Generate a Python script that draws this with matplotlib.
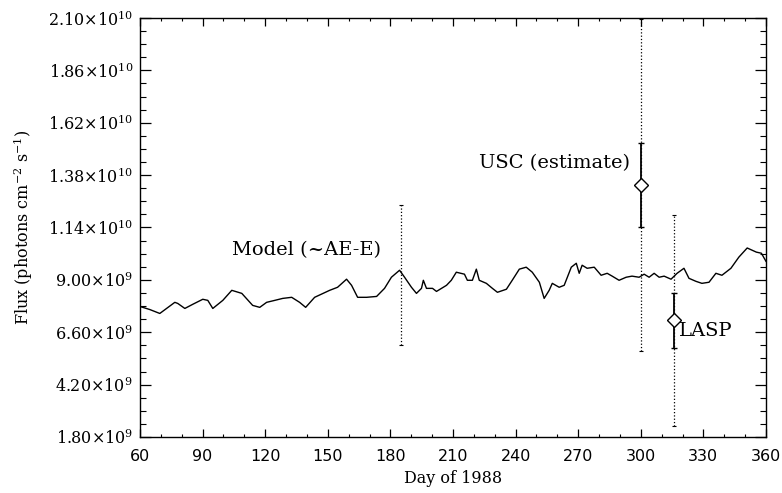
import numpy as np
import matplotlib.pyplot as plt
from matplotlib.ticker import MultipleLocator, FixedLocator

plt.rcParams['font.family'] = 'DejaVu Serif'
plt.rcParams['mathtext.fontset'] = 'dejavuserif'

# model flux (~AE-E): day of 1988 and flux in units of 1e9 photons cm^-2 s^-1
day = [60, 64.7, 69.5, 76.7, 78.1, 81.5, 85.3, 90.1, 92.5, 94.9, 99.7, 104.0,
       108.8, 114.0, 117.4, 120.7, 124.6, 128.4, 132.7, 136.5, 139.4, 143.7,
       150.9, 154.7, 159.0, 161.4, 164.3, 168.6, 173.4, 177.2, 180.5, 184.4,
       186.8, 190.1, 192.5, 194.9, 195.8, 197.3, 200.2, 202.1, 206.9, 209.2,
       211.6, 215.5, 216.9, 219.3, 221.2, 222.6, 226.0, 228.9, 231.3, 235.6,
       238.4, 241.8, 245.1, 248.0, 251.4, 253.7, 256.1, 257.6, 260.9, 263.3,
       266.7, 269.1, 270.5, 271.9, 274.3, 277.7, 281.0, 283.9, 286.3, 289.6,
       293.0, 295.8, 299.2, 301.6, 304.0, 306.4, 308.8, 311.2, 314.5, 317.4,
       320.7, 323.1, 326.5, 329.3, 332.7, 336.0, 338.9, 343.2, 347.0, 351.0,
       355.4, 357.8, 360]
flux = [7.78, 7.64, 7.46, 7.97, 7.92, 7.69, 7.88, 8.11, 8.06, 7.69, 8.06, 8.52,
        8.38, 7.83, 7.74, 7.97, 8.06, 8.15, 8.20, 7.97, 7.74, 8.20,
        8.52, 8.66, 9.03, 8.75, 8.20, 8.20, 8.24, 8.61, 9.12, 9.44,
        9.12, 8.66, 8.38, 8.61, 8.98, 8.61, 8.61, 8.47, 8.75, 8.98,
        9.35, 9.26, 8.98, 8.98, 9.49, 8.98, 8.84, 8.61, 8.43, 8.57,
        8.98, 9.49, 9.58, 9.35, 8.89, 8.15, 8.52, 8.84, 8.66, 8.75,
        9.58, 9.76, 9.30, 9.67, 9.53, 9.58, 9.21, 9.30, 9.17, 8.98,
        9.12, 9.17, 9.12, 9.26, 9.12, 9.30, 9.12, 9.17, 9.03, 9.30,
        9.53, 9.07, 8.93, 8.84, 8.89, 9.30, 9.21, 9.53, 10.04, 10.46,
        10.27, 10.22, 9.85]

# error bars: day, value, solid error, dotted error (1e9 units)
model_day, model_val, model_err = 185, 9.22, 3.21
usc_day, usc_val, usc_err, usc_err2 = 300, 13.34, 1.93, 7.6
lasp_day, lasp_val, lasp_err, lasp_err2 = 316, 7.14, 1.28, 4.85

yticks = [1.8, 4.2, 6.6, 9.0, 11.4, 13.8, 16.2, 18.6, 21.0]
ylabels = [r'1.80$\times$10$^{9}$', r'4.20$\times$10$^{9}$', r'6.60$\times$10$^{9}$',
           r'9.00$\times$10$^{9}$', r'1.14$\times$10$^{10}$', r'1.38$\times$10$^{10}$',
           r'1.62$\times$10$^{10}$', r'1.86$\times$10$^{10}$', r'2.10$\times$10$^{10}$']

fig = plt.figure(figsize=(7.82, 4.93), dpi=100)
ax = fig.add_axes([0.179, 0.1136, 0.8005, 0.85])

ax.plot(day, flux, color='black', lw=1.0)

dot = dict(fmt='none', ecolor='black', elinewidth=0.9, capsize=1.5, capthick=0.8)
for d, v, e in [(model_day, model_val, model_err),
                (usc_day, usc_val, usc_err2),
                (lasp_day, lasp_val, lasp_err2)]:
    eb = ax.errorbar([d], [v], yerr=[e], **dot)
    eb[2][0].set_linestyle(':')

solid = dict(fmt='D', mfc='white', mec='black', mew=1.0, ms=7, ecolor='black',
             elinewidth=1.3, capsize=2, capthick=1.0)
ax.errorbar([usc_day], [usc_val], yerr=[usc_err], **solid)
ax.errorbar([lasp_day], [lasp_val], yerr=[lasp_err], **solid)

ax.text(140, 10.36, 'Model (~AE-E)', fontsize=14, ha='center', va='center')
ax.text(294.8, 14.35, 'USC (estimate)', fontsize=14, ha='right', va='center')
ax.text(318.5, 6.65, 'LASP', fontsize=14, ha='left', va='center')

ax.set_xlim(60, 360)
ax.set_ylim(1.8, 21.0)
ax.xaxis.set_major_locator(MultipleLocator(30))
ax.xaxis.set_minor_locator(MultipleLocator(10))
ax.yaxis.set_major_locator(FixedLocator(yticks))
ax.yaxis.set_minor_locator(MultipleLocator(0.6))
ax.set_yticklabels(ylabels)
for lab in ax.get_xticklabels():
    lab.set_family('DejaVu Sans')

ax.tick_params(which='both', direction='in', top=True, right=True, labelsize=11.5)
ax.tick_params(axis='x', which='major', length=5.5, width=0.9, pad=9)
ax.tick_params(axis='x', which='minor', length=2.5, width=0.8)
ax.tick_params(axis='y', which='major', length=7.7, width=0.9, pad=5)
ax.tick_params(axis='y', which='minor', length=4, width=0.8)
for s in ax.spines.values():
    s.set_linewidth(1.0)

ax.set_xlabel('Day of 1988', fontsize=11.5, labelpad=4)
ax.set_ylabel(r'Flux (photons cm$^{-2}$ s$^{-1}$)', fontsize=11.5, labelpad=9)

fig.savefig('out.png', dpi=100)
